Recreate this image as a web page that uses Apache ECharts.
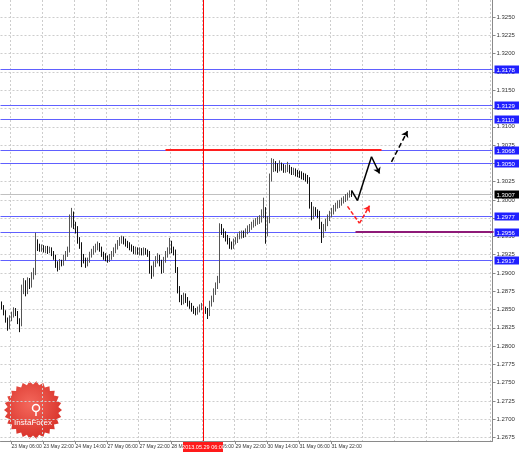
<!DOCTYPE html>
<html><head><meta charset="utf-8">
<script src="https://cdn.jsdelivr.net/npm/echarts@6/dist/echarts.min.js"></script>
<style>html,body{margin:0;padding:0;background:#fff}#c{width:519px;height:452px}</style>
</head><body><div id="c"></div>
<script>
// ---- data ----
const days = [['23 May',1],['24 May',0],['27 May',0],['28 May',0],['29 May',0],['30 May',0],['31 May',0],['3 Jun',0],['4 Jun',0],['5 Jun',0],['6 Jun',0]];
const categories = [];
days.forEach(([d, first]) => { for (let h = first; h < 24; h++) categories.push(d + ' ' + String(h).padStart(2, '0') + ':00'); });
categories.length = 246;

const opens = [
1.2857,1.2853,1.2846,1.2836,1.2826,1.2838,1.2842,1.2849,1.2845,1.2834,
1.2830,1.2878,1.2886,1.2875,1.2889,1.2884,1.2896,1.2900,1.2942,1.2936,
1.2933,1.2935,1.2931,1.2934,1.2930,1.2932,1.2927,1.2922,1.2912,1.2908,
1.2915,1.2913,1.2921,1.2926,1.2931,1.2968,1.2975,1.2966,1.2960,1.2945,
1.2938,1.2922,1.2918,1.2913,1.2917,1.2925,1.2929,1.2932,1.2935,1.2938,
1.2933,1.2926,1.2923,1.2920,1.2919,1.2922,1.2926,1.2931,1.2936,1.2941,
1.2944,1.2946,1.2943,1.2940,1.2938,1.2935,1.2933,1.2930,1.2932,1.2929,
1.2931,1.2928,1.2931,1.2929,1.2927,1.2905,1.2899,1.2912,1.2918,1.2921,
1.2914,1.2904,1.2918,1.2925,1.2930,1.2936,1.2932,1.2929,1.2905,1.2878,
1.2865,1.2861,1.2868,1.2864,1.2859,1.2856,1.2852,1.2849,1.2847,1.2850,
1.2853,1.2855,1.2851,1.2849,1.2845,1.2858,1.2864,1.2874,1.2882,1.2890,
1.2962,1.2957,1.2953,1.2948,1.2944,1.2939,1.2937,1.2943,1.2945,1.2950,
1.2952,1.2954,1.2953,1.2957,1.2960,1.2963,1.2966,1.2968,1.2970,1.2972,
1.2974,1.2980,1.2985,1.2958,1.2972,1.3030,1.3044,1.3049,1.3045,1.3043,
1.3047,1.3045,1.3042,1.3043,1.3044,1.3041,1.3039,1.3040,1.3037,1.3036,
1.3035,1.3033,1.3032,1.3030,1.3028,1.2993,1.2978,1.2986,1.2983,1.2981,
1.2966,1.2954,1.2962,1.2969,1.2975,1.2980,1.2984,1.2988,1.2992,1.2994,
1.2996,1.2999,1.3001,1.3003,1.3006,1.3010];

const closes = [
1.2853,1.2846,1.2836,1.2826,1.2838,1.2842,1.2849,1.2845,1.2834,1.2830,
1.2878,1.2886,1.2875,1.2889,1.2884,1.2896,1.2900,1.2942,1.2936,1.2933,
1.2935,1.2931,1.2934,1.2930,1.2932,1.2927,1.2922,1.2912,1.2908,1.2915,
1.2913,1.2921,1.2926,1.2931,1.2968,1.2975,1.2966,1.2960,1.2945,1.2938,
1.2922,1.2918,1.2913,1.2917,1.2925,1.2929,1.2932,1.2935,1.2938,1.2933,
1.2926,1.2923,1.2920,1.2919,1.2922,1.2926,1.2931,1.2936,1.2941,1.2944,
1.2946,1.2943,1.2940,1.2938,1.2935,1.2933,1.2930,1.2932,1.2929,1.2931,
1.2928,1.2931,1.2929,1.2927,1.2905,1.2899,1.2912,1.2918,1.2921,1.2914,
1.2904,1.2918,1.2925,1.2930,1.2936,1.2932,1.2929,1.2905,1.2878,1.2865,
1.2861,1.2868,1.2864,1.2859,1.2856,1.2852,1.2849,1.2847,1.2850,1.2853,
1.2855,1.2851,1.2849,1.2845,1.2858,1.2864,1.2874,1.2882,1.2890,1.2962,
1.2957,1.2953,1.2948,1.2944,1.2939,1.2937,1.2943,1.2945,1.2950,1.2952,
1.2954,1.2953,1.2957,1.2960,1.2963,1.2966,1.2968,1.2970,1.2972,1.2974,
1.2980,1.2985,1.2958,1.2972,1.3030,1.3044,1.3049,1.3045,1.3043,1.3047,
1.3045,1.3042,1.3043,1.3044,1.3041,1.3039,1.3040,1.3037,1.3036,1.3035,
1.3033,1.3032,1.3030,1.3028,1.2993,1.2978,1.2986,1.2983,1.2981,1.2966,
1.2954,1.2962,1.2969,1.2975,1.2980,1.2984,1.2988,1.2992,1.2994,1.2996,
1.2999,1.3001,1.3003,1.3006,1.3010,1.3007];

const highs = [
1.2861,1.2856,1.2849,1.2839,1.2842,1.2847,1.2853,1.2852,1.2848,1.2838,
1.2884,1.2893,1.2890,1.2894,1.2893,1.2901,1.2907,1.2955,1.2946,1.2940,
1.2939,1.2938,1.2937,1.2937,1.2936,1.2935,1.2930,1.2925,1.2916,1.2919,
1.2918,1.2925,1.2930,1.2936,1.2980,1.2989,1.2984,1.2970,1.2964,1.2949,
1.2942,1.2926,1.2921,1.2921,1.2929,1.2933,1.2937,1.2940,1.2943,1.2941,
1.2936,1.2929,1.2927,1.2924,1.2926,1.2930,1.2935,1.2940,1.2945,1.2949,
1.2951,1.2950,1.2947,1.2944,1.2942,1.2939,1.2937,1.2936,1.2935,1.2935,
1.2934,1.2935,1.2934,1.2932,1.2930,1.2910,1.2916,1.2923,1.2927,1.2925,
1.2918,1.2922,1.2930,1.2935,1.2948,1.2944,1.2936,1.2932,1.2908,1.2882,
1.2870,1.2873,1.2872,1.2867,1.2862,1.2859,1.2855,1.2852,1.2854,1.2857,
1.2859,1.2858,1.2854,1.2852,1.2862,1.2869,1.2879,1.2887,1.2896,1.2968,
1.2967,1.2961,1.2957,1.2952,1.2948,1.2943,1.2947,1.2949,1.2954,1.2957,
1.2958,1.2958,1.2961,1.2965,1.2967,1.2970,1.2973,1.2975,1.2977,1.2979,
1.2987,1.3003,1.2990,1.2978,1.3036,1.3057,1.3056,1.3053,1.3050,1.3054,
1.3051,1.3049,1.3048,1.3052,1.3048,1.3045,1.3044,1.3043,1.3041,1.3040,
1.3039,1.3037,1.3036,1.3034,1.3031,1.2997,1.2991,1.2990,1.2987,1.2985,
1.2970,1.2967,1.2974,1.2980,1.2985,1.2989,1.2993,1.2996,1.2999,1.3000,
1.3003,1.3005,1.3008,1.3010,1.3013,1.3012];

const lows = [
1.2850,1.2842,1.2832,1.2821,1.2823,1.2834,1.2839,1.2841,1.2830,1.2819,
1.2827,1.2871,1.2868,1.2871,1.2878,1.2880,1.2891,1.2897,1.2930,1.2929,
1.2929,1.2928,1.2927,1.2926,1.2927,1.2923,1.2918,1.2907,1.2902,1.2904,
1.2909,1.2910,1.2917,1.2922,1.2928,1.2962,1.2960,1.2954,1.2940,1.2933,
1.2908,1.2913,1.2907,1.2909,1.2914,1.2921,1.2925,1.2928,1.2931,1.2929,
1.2922,1.2918,1.2916,1.2914,1.2915,1.2918,1.2922,1.2927,1.2932,1.2937,
1.2940,1.2939,1.2936,1.2934,1.2931,1.2929,1.2926,1.2925,1.2925,1.2924,
1.2924,1.2924,1.2925,1.2922,1.2899,1.2892,1.2895,1.2908,1.2913,1.2909,
1.2899,1.2900,1.2914,1.2921,1.2926,1.2927,1.2924,1.2900,1.2872,1.2860,
1.2856,1.2857,1.2859,1.2854,1.2851,1.2847,1.2844,1.2842,1.2843,1.2846,
1.2849,1.2847,1.2844,1.2837,1.2841,1.2854,1.2860,1.2870,1.2878,1.2886,
1.2952,1.2948,1.2943,1.2939,1.2933,1.2932,1.2933,1.2939,1.2941,1.2946,
1.2947,1.2948,1.2949,1.2953,1.2956,1.2959,1.2962,1.2964,1.2966,1.2967,
1.2969,1.2975,1.2940,1.2950,1.2968,1.3025,1.3038,1.3039,1.3037,1.3039,
1.3040,1.3037,1.3037,1.3038,1.3036,1.3034,1.3034,1.3032,1.3031,1.3030,
1.3028,1.3027,1.3025,1.3022,1.2988,1.2972,1.2974,1.2978,1.2975,1.2960,
1.2941,1.2948,1.2957,1.2964,1.2971,1.2976,1.2980,1.2984,1.2988,1.2989,
1.2992,1.2995,1.2997,1.2999,1.3003,1.3004];

const yTicks = [1.2675,1.2700,1.2725,1.2750,1.2775,1.2800,1.2825,1.2850,1.2875,1.2900,1.2925,1.2950,1.2975,1.3000,1.3025,1.3050,1.3075,1.3100,1.3125,1.3150,1.3175,1.3200,1.3225,1.3250];
const levels = [1.3178, 1.3129, 1.3110, 1.3068, 1.3050, 1.2977, 1.2956, 1.2917];
const bidPrice = 1.3007;
const resistanceSeg = [[82, 1.3068], [190, 1.3068]];
const supportSeg = [[177, 1.2956], [245, 1.2956]];
const markerIndex = 101;
const markerText = '2013.05.29 06:00';
const blackSolidPath = [[175, 1.3013], [178, 1.2999], [185, 1.3059], [189, 1.3036]];
const blackDashedPath = [[195, 1.3052], [203, 1.3094]];
const redPath = [[173, 1.2991], [179, 1.2968], [184, 1.2992]];

const Y_MIN = 1.26701, Y_MAX = 1.32734;
const FIRST_TICK = 5, TICK_STEP = 16, LAST_BAR = opens.length - 1, LAST_CAT = 245;

// ---- build ----
const candleData = opens.map((o, i) => [o, closes[i], lows[i], highs[i]]);
function segs(path, color, type) {
  const out = [];
  for (let k = 0; k < path.length - 1; k++) {
    out.push({ coords: [path[k], path[k + 1]], symbol: k === path.length - 2 ? ['none', 'arrow'] : ['none', 'none'], lineStyle: { color: color, width: 1.5, type: type, opacity: 1 } });
  }
  return out;
}
const isTick = i => (i - FIRST_TICK) % TICK_STEP === 0;

function levelSeries(vals, lineColor, boxColor, z) {
  return {
    type: 'custom', silent: true, z: z, clip: false,
    data: vals.map(v => [0, v]),
    renderItem: (params, api) => {
      const cs = params.coordSys;
      const v = api.value(1);
      const y = Math.floor(api.coord([0, v])[1]);
      const right = cs.x + cs.width;
      return {
        type: 'group', children: [
          { type: 'rect', shape: { x: cs.x, y: y, width: cs.width, height: 1 }, style: { fill: lineColor } },
          { type: 'rect', shape: { x: right + 2, y: y - 3.5, width: 30, height: 8 }, style: { fill: boxColor } },
          { type: 'text', style: { x: right + 4, y: y + 1, text: v.toFixed(4), fill: '#fff', fontSize: 6, fontFamily: 'Liberation Sans', verticalAlign: 'middle', align: 'left' } }
        ]
      };
    }
  };
}

const markerSeries = {
  type: 'custom', silent: true, z: 4, clip: false,
  data: [[markerIndex, Y_MIN]],
  renderItem: (params, api) => {
    const cs = params.coordSys;
    const p = api.coord([api.value(0), api.value(1)]);
    const x = Math.floor(p[0]);
    const bottom = cs.y + cs.height;
    return {
      type: 'group', children: [
        { type: 'rect', shape: { x: x, y: cs.y, width: 1, height: cs.height }, style: { fill: '#ff0000' } },
        { type: 'rect', shape: { x: x - 20, y: bottom + 1, width: 40, height: 10 }, style: { fill: '#ff1a1a' } },
        { type: 'text', style: { x: x + 0.5, y: bottom + 6.5, text: markerText, fill: '#fff', fontSize: 5.5, fontFamily: 'Liberation Sans', align: 'center', verticalAlign: 'middle' } }
      ]
    };
  }
};

const segLines = [
  { coords: resistanceSeg, lineStyle: { color: '#ff1f1f', width: 2, opacity: 1 } },
  { coords: [supportSeg[0], [supportSeg[1][0] + 0.5, supportSeg[1][1]]], lineStyle: { color: '#8e1a78', width: 2, opacity: 1 } }
];

// logo star shape
const starPts = [];
const NSP = 26;
for (let k = 0; k < NSP * 2; k++) {
  const r = k % 2 === 0 ? 29 : 25.5;
  const a = Math.PI * k / NSP;
  starPts.push([r * Math.cos(a), r * Math.sin(a)]);
}

const chart = echarts.init(document.getElementById('c'), null, { renderer: 'canvas' });
chart.setOption({
  animation: false,
  backgroundColor: '#fff',
  grid: { left: 0.5, top: 0, right: 26.5, bottom: 11, containLabel: false },
  xAxis: {
    type: 'category', data: categories, boundaryGap: true,
    axisLine: { show: true, onZero: false, lineStyle: { color: '#8a8a8a', width: 1 } },
    axisTick: { show: true, alignWithLabel: true, length: 3, interval: i => isTick(i) && i <= LAST_BAR, lineStyle: { color: '#8a8a8a' } },
    axisLabel: { interval: i => isTick(i) && i <= LAST_BAR, formatter: v => v, fontSize: 5, fontFamily: 'Liberation Sans', color: '#333', align: 'left', margin: 3 },
    splitLine: { show: true, interval: i => isTick(i), lineStyle: { color: '#cdcdcd', width: 1, type: [2, 2] } }
  },
  yAxis: {
    type: 'value', position: 'right', min: Y_MIN, max: Y_MAX, scale: true,
    axisLine: { show: true, lineStyle: { color: '#8a8a8a', width: 1 } },
    axisTick: { show: true, length: 3, customValues: yTicks, lineStyle: { color: '#8a8a8a' } },
    axisLabel: { customValues: yTicks, formatter: v => v.toFixed(4), fontSize: 6, fontFamily: 'Liberation Sans', color: '#333', margin: 4 },
    splitLine: { show: true, lineStyle: { color: '#cdcdcd', width: 1, type: [2, 2] } }
  },
  series: [
    levelSeries(levels, '#6060ff', '#1f1fff', 1),
    levelSeries([bidPrice], '#c0c0c0', '#000000', 1),
    {
      type: 'candlestick', data: candleData, barWidth: 1, z: 3, silent: true,
      itemStyle: { color: '#555', color0: '#111', borderColor: '#555', borderColor0: '#111', borderWidth: 1 }
    },
    { type: 'lines', coordinateSystem: 'cartesian2d', clip: false, z: 4, silent: true, data: segLines },
    markerSeries,
    { type: 'lines', coordinateSystem: 'cartesian2d', symbolSize: 6, z: 5, silent: true, data: segs(blackSolidPath, '#000', 'solid') },
    { type: 'lines', coordinateSystem: 'cartesian2d', symbolSize: 6, z: 5, silent: true, data: segs(blackDashedPath, '#000', [5, 3]) },
    { type: 'lines', coordinateSystem: 'cartesian2d', symbolSize: 6, z: 5, silent: true, data: segs(redPath, '#ff2020', [4, 2]) }
  ],
  graphic: [{
    type: 'group', x: 33, y: 410, z: 100, silent: true,
    children: [
      { type: 'polygon', shape: { points: starPts }, style: { fill: new echarts.graphic.RadialGradient(0.45, 0.4, 0.7, [{ offset: 0, color: '#f4685c' }, { offset: 1, color: '#d42a22' }]) } },
      { type: 'circle', shape: { cx: 3, cy: -2, r: 3.5 }, style: { fill: 'none', stroke: '#fff', lineWidth: 1.5 } },
      { type: 'line', shape: { x1: 3, y1: 1.5, x2: 3, y2: 6 }, style: { stroke: '#fff', lineWidth: 1.5 } },
      { type: 'text', style: { text: 'InstaForex', x: 0, y: 13, fill: '#fff', fontSize: 8, fontFamily: 'Liberation Sans', align: 'center', verticalAlign: 'middle' } }
    ]
  }]
});
</script></body></html>
